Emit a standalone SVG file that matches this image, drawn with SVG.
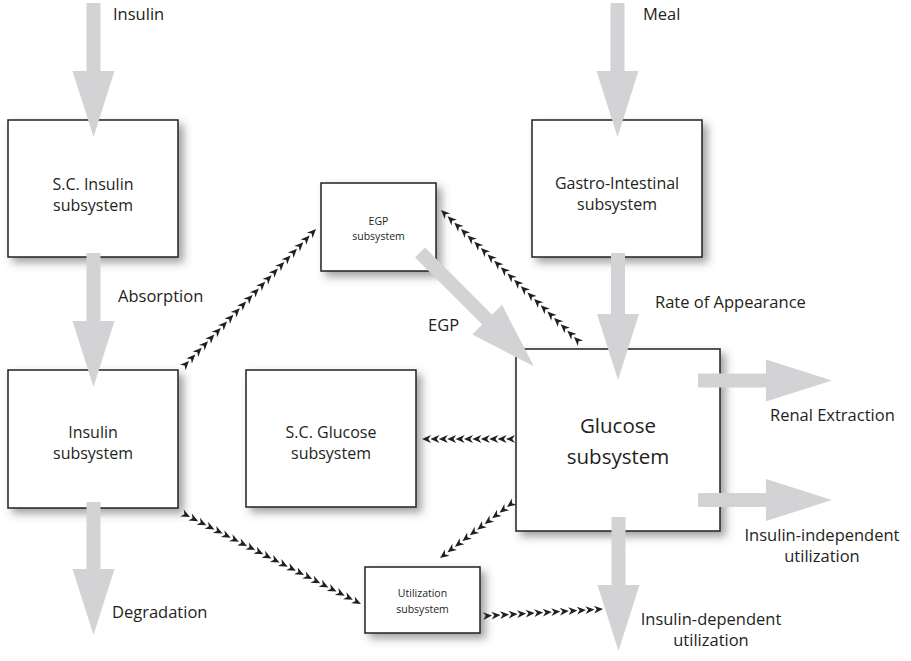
<svg xmlns="http://www.w3.org/2000/svg" width="911" height="661" viewBox="0 0 911 661">
  <style>
    text { font-family: "Open Sans", "Noto Sans", "Liberation Sans", sans-serif; fill: #231f20; }
    .lbl { font-size: 16.5px; }
    .in { font-size: 16px; }
    .box { fill: #ffffff; stroke: #231f20; stroke-width: 1.5; filter: url(#shadow); }
    .small { font-size: 10.5px; }
    .big { font-size: 20.5px; }
    .flow { fill: #d3d3d5; }
    .chain { fill: none; stroke: none; marker-start: url(#chev); marker-mid: url(#chev); marker-end: url(#chev); }
  </style>
  <defs>
    <filter id="shadow" x="-20%" y="-20%" width="150%" height="150%">
      <feDropShadow dx="5" dy="5" stdDeviation="4.5" flood-color="#444" flood-opacity="0.5"/>
    </filter>
    <!-- small notched arrowhead repeated along the dotted signal paths -->
    <marker id="chev" markerUnits="userSpaceOnUse" viewBox="-10 -5 11 10" markerWidth="11" markerHeight="10" refX="0" refY="0" orient="auto">
      <path d="M0,0 L-9,-3.9 L-6.3,0 L-9,3.9 Z" fill="#231f20"/>
    </marker>
  </defs>

  <!-- subsystem boxes -->
  <g id="sc-insulin">
    <rect class="box" x="8" y="120" width="170" height="137"/>
    <text class="in" x="93" y="190" text-anchor="middle">S.C. Insulin</text>
    <text class="in" x="93" y="211" text-anchor="middle">subsystem</text>
  </g>
  <g id="insulin">
    <rect class="box" x="8" y="370" width="170" height="138"/>
    <text class="in" x="93" y="438" text-anchor="middle">Insulin</text>
    <text class="in" x="93" y="459" text-anchor="middle">subsystem</text>
  </g>
  <g id="sc-glucose">
    <rect class="box" x="246" y="370" width="170" height="137"/>
    <text class="in" x="331" y="438" text-anchor="middle">S.C. Glucose</text>
    <text class="in" x="331" y="459" text-anchor="middle">subsystem</text>
  </g>
  <g id="egp">
    <rect class="box" x="321" y="183" width="115" height="88"/>
    <text class="small" x="378.5" y="225" text-anchor="middle">EGP</text>
    <text class="small" x="378.5" y="240" text-anchor="middle">subsystem</text>
  </g>
  <g id="gastro">
    <rect class="box" x="532" y="120" width="170" height="137"/>
    <text class="in" x="617" y="189" text-anchor="middle">Gastro-Intestinal</text>
    <text class="in" x="617" y="210" text-anchor="middle">subsystem</text>
  </g>
  <g id="glucose">
    <rect class="box" x="516" y="349" width="204" height="182"/>
    <text class="big" x="618" y="433" text-anchor="middle">Glucose</text>
    <text class="big" x="618" y="464" text-anchor="middle">subsystem</text>
  </g>
  <g id="utilization">
    <rect class="box" x="365" y="567" width="115" height="66"/>
    <text class="small" x="422.5" y="597" text-anchor="middle">Utilization</text>
    <text class="small" x="422.5" y="613" text-anchor="middle">subsystem</text>
  </g>

  <g id="connectors">
    <!-- gray mass-flow arrows: shaft 14 wide, head 42 wide and 66 long -->
    <g class="flow">
      <path d="M86.5,3 H100.5 V71 H114.5 L93.5,137 L72.5,71 H86.5 Z"/>
      <path d="M86.5,253 H100.5 V321 H114.5 L93.5,387 L72.5,321 H86.5 Z"/>
      <path d="M86.5,502 H100.5 V569 H114.5 L93.5,635 L72.5,569 H86.5 Z"/>
      <path d="M610.5,3 H624.5 V71 H638.5 L617.5,137 L596.5,71 H610.5 Z"/>
      <path d="M611,253 H625 V314 H639 L618,380 L597,314 H611 Z"/>
      <path d="M611.5,517 H625.5 V585 H639.5 L618.5,651 L597.5,585 H611.5 Z"/>
      <path d="M698,373.5 V387.5 H766 V401.5 L832,380.5 L766,359.5 V373.5 Z"/>
      <path d="M698,493 V507 H766 V521 L832,500 L766,479 V493 Z"/>
      <path transform="translate(420,252.5) rotate(45)" d="M0,-7 V7 H95 V21 L161,0 L95,-21 V-7 Z"/>
    </g>
    <!-- dotted signal paths -->
    <path class="chain" d="M189,361 l6.35,-6.6 6.35,-6.6 6.35,-6.6 6.35,-6.6 6.35,-6.6 6.35,-6.6 6.35,-6.6 6.35,-6.6 6.35,-6.6 6.35,-6.6 6.35,-6.6 6.35,-6.6 6.35,-6.6 6.35,-6.6 6.35,-6.6 6.35,-6.6 6.35,-6.6 6.35,-6.6 6.35,-6.6 6.35,-6.6"/>
    <path class="chain" d="M574,337 l-6.65,-6.35 -6.65,-6.35 -6.65,-6.35 -6.65,-6.35 -6.65,-6.35 -6.65,-6.35 -6.65,-6.35 -6.65,-6.35 -6.65,-6.35 -6.65,-6.35 -6.65,-6.35 -6.65,-6.35 -6.65,-6.35 -6.65,-6.35 -6.65,-6.35 -6.65,-6.35 -6.65,-6.35 -6.65,-6.35 -6.65,-6.35 -6.65,-6.35"/>
    <path class="chain" d="M506,439 l-8.4,0 -8.4,0 -8.4,0 -8.4,0 -8.4,0 -8.4,0 -8.4,0 -8.4,0 -8.4,0 -8.4,0"/>
    <path class="chain" d="M190,517 l8.14,4.14 8.14,4.14 8.14,4.14 8.14,4.14 8.14,4.14 8.14,4.14 8.14,4.14 8.14,4.14 8.14,4.14 8.14,4.14 8.14,4.14 8.14,4.14 8.14,4.14 8.14,4.14 8.14,4.14 8.14,4.14 8.14,4.14 8.14,4.14 8.14,4.14 8.14,4.14 8.14,4.14"/>
    <path class="chain" d="M507,507 l-7.44,5.67 -7.44,5.67 -7.44,5.67 -7.44,5.67 -7.44,5.67 -7.44,5.67 -7.44,5.67 -7.44,5.67 -7.44,5.67"/>
    <path class="chain" d="M492,615.5 l8.54,-0.5 8.54,-0.5 8.54,-0.5 8.54,-0.5 8.54,-0.5 8.54,-0.5 8.54,-0.5 8.54,-0.5 8.54,-0.5 8.54,-0.5 8.54,-0.5 8.54,-0.5 8.54,-0.5"/>
  </g>

  <!-- flow labels -->
  <g id="labels">
    <text class="lbl" x="113" y="20">Insulin</text>
    <text class="lbl" x="643" y="20">Meal</text>
    <text class="lbl" x="118" y="302">Absorption</text>
    <text class="lbl" x="655" y="308">Rate of Appearance</text>
    <text class="lbl" x="428" y="331">EGP</text>
    <text class="lbl" x="112" y="618">Degradation</text>
    <text class="lbl" x="770" y="421">Renal Extraction</text>
    <text class="lbl" x="822" y="541" text-anchor="middle">Insulin-independent</text>
    <text class="lbl" x="822" y="562" text-anchor="middle">utilization</text>
    <text class="lbl" x="711" y="625" text-anchor="middle">Insulin-dependent</text>
    <text class="lbl" x="711" y="646" text-anchor="middle">utilization</text>
  </g>
</svg>
